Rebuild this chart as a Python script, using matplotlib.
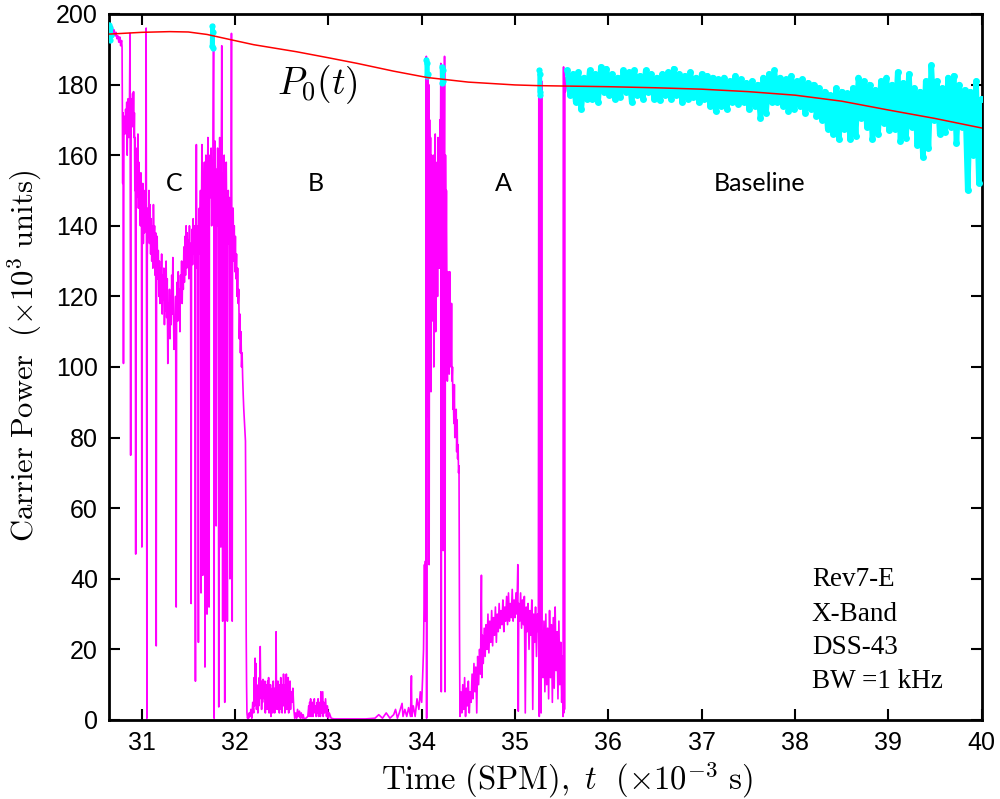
import numpy as np
import matplotlib
matplotlib.use("Agg")
import matplotlib.pyplot as plt

plt.rcParams['mathtext.fontset'] = 'cm'

# ---- magenta: full carrier power record (t in 1e-3 s, power in 1e3 units)
mag_pts = [
 (30.650,195.5),(30.665,196.8),(30.675,195.0),(30.685,196.5),(30.695,194.5),(30.705,195.5),(30.715,193.8),
 (30.725,194.8),(30.735,193.0),(30.745,193.8),(30.755,192.0),(30.765,193.5),(30.775,191.0),(30.785,192.5),
 (30.790,190.5),(30.797,152),(30.800,172),(30.805,101),(30.810,168),(30.815,171),(30.822,166),(30.828,173),
 (30.835,169),(30.840,175),(30.845,160),(30.850,172),(30.855,176),(30.862,165),(30.868,170),(30.875,194.5),
 (30.879,120),(30.882,75),(30.886,160),(30.890,176),(30.897,172),(30.903,177.5),(30.908,168),(30.913,178),
 (30.918,165),(30.922,172),(30.927,150),(30.931,165),(30.936,47),(30.940,160),(30.945,148),(30.950,162),
 (30.955,152),(30.960,166),(30.965,145),(30.970,158),(30.980,150),(30.986,140),(30.992,155),(30.998,145),
 (31.002,49),(31.006,140),(31.012,152),(31.018,135),(31.024,148),(31.030,138),(31.036,150),(31.042,140),
 (31.048,196),(31.052,120),(31.056,0.5),(31.060,130),(31.066,145),(31.072,137),(31.078,150),(31.084,135),
 (31.090,146),(31.096,132),(31.102,142),(31.108,130),(31.114,140),(31.120,128),(31.126,146),(31.132,135),
 (31.138,140),(31.144,126),(31.150,138),(31.156,21),(31.160,130),(31.166,137),(31.172,125),(31.178,133),
 (31.184,120),(31.190,130),(31.196,118),(31.202,128),(31.208,122),(31.214,132),(31.220,115),(31.226,126),
 (31.232,119),(31.238,128),(31.244,112),(31.250,124),(31.256,116),(31.262,130),(31.268,114),(31.274,125),
 (31.280,101),(31.286,118),(31.292,110),(31.298,122),(31.304,108),(31.310,120),(31.316,112),(31.322,126),
 (31.328,115),(31.334,131),(31.340,118),(31.346,105),(31.352,113),(31.358,107),(31.364,120),(31.370,32),
 (31.374,112),(31.380,124),(31.386,113),(31.392,127),(31.398,117),(31.404,122),(31.410,110),(31.416,126),
 (31.422,120),(31.428,130),(31.434,118),(31.440,128),(31.446,122),(31.452,134),(31.458,124),(31.464,137),
 (31.470,126),(31.476,140),(31.482,128),(31.488,138),(31.494,130),(31.500,136),(31.506,125),(31.512,140),
 (31.518,128),(31.524,135),(31.530,33),(31.534,130),(31.540,139),(31.546,129),(31.552,142),(31.558,132),
 (31.564,140),(31.570,130),(31.576,11),(31.580,135),(31.586,163),(31.590,140),(31.596,128),(31.602,140),
 (31.608,22),(31.612,135),(31.618,145),(31.624,132),(31.630,150),(31.636,36),(31.640,140),(31.646,163),
 (31.650,130),(31.655,41),(31.660,150),(31.666,145),(31.672,158),(31.678,15),(31.682,148),(31.688,160),
 (31.694,140),(31.700,30),(31.704,152),(31.710,165),(31.716,145),(31.722,32),(31.726,150),(31.732,160),
 (31.738,148),(31.744,162),(31.750,140),(31.756,155),(31.762,150),(31.768,190),(31.772,197),(31.776,0.5),
 (31.780,150),(31.786,164),(31.792,146),(31.798,55),(31.802,156),(31.808,140),(31.814,162),(31.820,148),
 (31.826,3.7),(31.830,150),(31.836,165),(31.842,145),(31.848,49),(31.852,152),(31.858,191),(31.862,148),
 (31.868,28),(31.872,155),(31.878,145),(31.884,160),(31.890,5),(31.894,150),(31.900,145),(31.906,158),
 (31.912,140),(31.918,28),(31.922,142),(31.928,150),(31.934,135),(31.940,148),(31.946,40),(31.950,140),
 (31.956,132),(31.962,194.5),(31.966,135),(31.970,28),(31.974,138),(31.980,145),(31.986,130),(31.992,140),
 (31.998,127),(32.004,137),(32.010,125),(32.016,132),(32.022,120),(32.028,128),(32.034,118),(32.040,122),
 (32.046,108),(32.052,115),(32.058,104),(32.064,110),(32.070,100),(32.076,104),(32.082,97),(32.088,92),
 (32.094,88),(32.100,85),(32.106,82),(32.112,79),(32.116,60),(32.120,24),(32.124,10),(32.128,2),
 (32.134,0.5),(32.140,1),(32.146,0.5),(32.152,2),
 (32.160,1),(32.170,3),(32.180,0.5),(32.190,5),(32.200,2),(32.205,12),(32.210,4),(32.215,17.5),(32.220,6),
 (32.225,16),(32.230,3),(32.240,9),(32.245,2),(32.250,10),(32.255,4),(32.260,12),(32.265,6),(32.270,20.8),
 (32.275,8),(32.280,11),(32.285,3),(32.290,10),(32.295,5),(32.300,11.5),(32.305,7),(32.310,10.5),(32.315,6),
 (32.320,11),(32.325,2),(32.330,9),(32.335,7),(32.340,10),(32.345,3),(32.350,11),(32.355,6),(32.360,12),
 (32.365,2),(32.370,9),(32.375,6),(32.380,10),(32.385,1),(32.390,8),(32.395,4),(32.400,9),(32.405,2),
 (32.410,11),(32.415,5),(32.420,9),(32.425,2),(32.430,7),(32.435,3),(32.440,25),(32.445,4),(32.450,9),
 (32.455,3),(32.460,11),(32.465,5),(32.470,10),(32.475,2),(32.480,8),(32.485,4),(32.490,12),(32.495,3),
 (32.500,7),(32.505,2),(32.510,10),(32.515,4),(32.520,13),(32.525,6),(32.530,9),(32.535,2),(32.540,10),
 (32.545,4),(32.550,13),(32.555,3),(32.560,9),(32.565,5),(32.570,12),(32.575,2),(32.580,10),(32.585,4),
 (32.590,11),(32.595,3),(32.600,8),(32.610,5),(32.620,9),(32.630,3),(32.640,0.5),(32.650,2),(32.660,0.5),
 (32.670,3),(32.680,1),(32.690,2.5),(32.700,0.5),(32.710,2),(32.720,0.5),(32.730,1.5),(32.740,0.3),
 (32.760,0.5),(32.780,1),(32.790,4),(32.795,1),(32.800,5),(32.805,2),(32.810,6),(32.815,1),(32.820,4),
 (32.825,2),(32.830,5),(32.835,1),(32.840,3),(32.850,6),(32.855,2),(32.860,4),(32.870,1),(32.880,5),
 (32.885,2),(32.890,6),(32.895,1),(32.900,3),(32.910,5),(32.915,1),(32.920,8),(32.925,2),(32.930,4),
 (32.940,8),(32.945,1),(32.950,5),(32.960,2),(32.970,6),(32.980,1),(32.990,4),(33.000,0.5),(33.010,2),
 (33.030,0.5),(33.060,0.3),(33.200,0.3),(33.400,0.3),(33.500,0.5),(33.540,1.5),(33.580,0.5),(33.620,2),
 (33.660,0.5),(33.700,1.5),(33.720,3),(33.740,0.5),(33.760,2),(33.790,4.7),(33.800,1),(33.820,3),
 (33.840,1),(33.860,3.5),(33.880,1),(33.890,12.5),(33.895,1),(33.910,4),(33.930,1),(33.950,6),
 (33.970,3),(33.985,8),(34.000,5),(34.010,12),(34.020,20),(34.030,44),(34.035,28),(34.040,45),(34.045,30),
 (34.050,188),(34.053,0.5),(34.057,186),(34.060,90),(34.065,183),(34.070,86),(34.075,180),(34.080,44),
 (34.085,170),(34.090,140),(34.095,165),(34.100,93),(34.105,160),(34.110,113),(34.115,150),(34.120,120),
 (34.125,160),(34.130,100),(34.135,155),(34.140,128),(34.145,166),(34.150,110),(34.155,150),(34.160,135),
 (34.165,158),(34.170,120),(34.175,165),(34.180,130),(34.185,160),(34.190,128),(34.195,170),(34.200,150),
 (34.205,186),(34.210,8),(34.215,182),(34.220,130),(34.225,185),(34.230,48),(34.235,178),(34.240,140),
 (34.245,188),(34.250,8),(34.255,160),(34.260,130),(34.265,150),(34.270,122),(34.275,96),(34.280,127),
 (34.285,105),(34.290,120),(34.295,98),(34.300,127),(34.305,110),(34.310,113),(34.315,100),(34.320,118),
 (34.325,96),(34.330,100),(34.335,88),(34.340,91),(34.345,84),(34.350,95),(34.355,80),(34.360,87),
 (34.365,82),(34.370,88),(34.375,76),(34.380,85),(34.385,74),(34.390,78),(34.395,70),(34.400,72),
 (34.405,27),(34.410,1),
 (34.420,8),(34.430,2),(34.440,10),(34.450,3),(34.460,12),(34.470,1),(34.480,9),(34.490,4),(34.500,11),
 (34.510,2),(34.520,8),(34.530,5),(34.540,13),(34.550,6),(34.560,16),(34.570,8),(34.580,15),(34.590,2),
 (34.600,18),(34.610,10),(34.620,20),(34.630,13),(34.640,41),(34.645,12),(34.650,24),(34.660,16),
 (34.670,26),(34.680,18),(34.690,27),(34.700,20),(34.710,30),(34.720,19),(34.730,28),(34.740,22),
 (34.750,31),(34.760,21),(34.770,29),(34.780,24),(34.790,32),(34.800,22),(34.810,30),(34.820,25),
 (34.830,33),(34.840,26),(34.850,31),(34.860,27),(34.870,34),(34.880,25),(34.890,32),(34.900,28),
 (34.910,35),(34.920,27),(34.930,36),(34.940,28),(34.950,33),(34.960,29),(34.970,37),(34.980,28),
 (34.990,34),(35.000,29),(35.010,36),(35.020,30),(35.030,44),(35.035,2.5),(35.040,33),(35.050,28),
 (35.060,36),(35.070,26),(35.080,34),(35.090,27),(35.100,35),(35.110,2),(35.120,32),(35.130,25),
 (35.140,33),(35.150,20),(35.160,31),(35.170,24),(35.180,34),(35.190,3),(35.200,30),(35.210,22),
 (35.220,32),(35.230,18),(35.240,30),(35.250,25),(35.255,184),(35.260,1),(35.265,180),(35.270,183),
 (35.275,184),(35.280,2),(35.285,181),(35.290,24),(35.300,12),(35.310,28),(35.320,8),(35.330,30),
 (35.340,10),(35.350,26),(35.360,6),(35.370,31),(35.380,12),(35.390,27),(35.400,5),(35.410,29),
 (35.420,9),(35.430,32),(35.440,14),(35.450,25),(35.460,6),(35.470,28),(35.480,10),(35.490,22),
 (35.500,5),(35.510,18),(35.515,1),(35.520,185),(35.523,2),(35.527,184),(35.530,3),(35.534,182),
 (35.540,178),(35.560,181),
]
mag_t = [p[0] for p in mag_pts]
mag_y = [p[1] for p in mag_pts]

# ---- cyan: short baseline snippets inside occultation zone
cyan_snip_t = [[30.650, 30.655, 30.660, 30.665, 30.670],
               [31.752, 31.756, 31.760, 31.764],
               [34.050, 34.055, 34.060, 34.065],
               [34.215, 34.220, 34.225, 34.230],
               [35.262, 35.265, 35.268, 35.271]]
cyan_snip_y = [[193, 197, 192.5, 196, 194],
               [191, 196.5, 190.5, 195],
               [187, 182.5, 186, 183],
               [185, 180.5, 184, 181],
               [184, 178, 183, 177]]

# ---- cyan: free-space baseline, upper / lower excursions every 0.06
base_t0, base_t1 = 35.56, 40.00
base_hi = [184, 183, 183.5, 182, 184, 183, 185, 184.5, 183, 182, 184, 183.5, 184, 182.5, 184, 183,
           182, 183, 183.5, 184.5, 183, 182.5, 183.5, 182, 183, 182.5, 182, 181.5, 182, 181, 182.5, 181.5,
           180.5, 181, 180, 182, 183, 184, 182, 181.5, 182.5, 181, 181.5, 180.5, 180, 179, 178, 177,
           179, 178, 177.5, 179, 182, 181, 180, 178.5, 181, 182, 180, 183.5, 180.5, 183, 179, 178,
           181, 185.5, 181, 179, 182, 182.5, 180, 178.5, 178, 181, 176]
base_lo = [177, 175, 173, 176, 176, 175, 178, 177, 176, 176.5, 178, 175, 177, 176, 178, 176,
           175.5, 177, 176, 177, 175, 176, 176.5, 175, 176, 174, 172.5, 174, 173, 175, 174.5, 175,
           173, 174, 170.5, 172, 175, 175, 174, 172.5, 173, 174, 172, 173, 171, 170, 167.5, 166,
           164.5, 167.5, 164.5, 165.5, 170.5, 168, 164.5, 166, 169, 167, 167.5, 164, 165, 168, 163, 159.5,
           162, 170, 166, 166.5, 168, 163.5, 168, 150, 160, 152, 158]

# ---- red: fitted free-space power P0(t)
p0_t = [30.65, 31.0, 31.3, 31.5, 31.7, 31.94, 32.2, 32.66, 33.0, 33.31, 33.7, 34.06, 34.5, 35.0,
        35.25, 35.5, 36.0, 36.5, 37.0, 37.5, 38.0, 38.5, 39.0, 39.5, 40.0]
p0_y = [194.3, 194.8, 195.0, 194.9, 194.2, 192.8, 191.3, 189.3, 187.6, 186.0, 183.8, 182.0, 180.7, 179.9,
        179.7, 179.6, 179.4, 179.1, 178.7, 178.0, 177.0, 175.3, 172.8, 170.4, 167.7]

region_labels = ["C", "B", "A", "Baseline"]
region_t = [31.35, 32.87, 34.87, 37.62]
info_lines = ["Rev7-E", "X-Band", "DSS-43", "BW =1 kHz"]

xticks = [31, 32, 33, 34, 35, 36, 37, 38, 39, 40]
yticks = [0, 20, 40, 60, 80, 100, 120, 140, 160, 180, 200]

fig = plt.figure(figsize=(10, 7.99), dpi=100)
ax = fig.add_axes([0.109, 0.0989, 0.8727, 0.8836])

ax.plot(mag_t, mag_y, color='#ff00ff', lw=1.2, zorder=2)

for st, sy in zip(cyan_snip_t, cyan_snip_y):
    ax.plot(st, sy, color='#00ffff', lw=3, marker='o', ms=4.5, mew=0, zorder=3)

n = len(base_hi)
tt = np.linspace(base_t0, base_t1, n)
dt = (tt[1] - tt[0]) / 2
bt, by = [], []
for i in range(n):
    bt += [tt[i], tt[i] + dt]
    by += [base_hi[i], base_lo[i]]
bt = np.array(bt); by = np.array(by)
keep = bt <= 40.0
ax.plot(bt[keep], by[keep], color='#00ffff', lw=4, marker='o', ms=5, mew=0,
        solid_joinstyle='round', solid_capstyle='round', zorder=3)

ax.plot(p0_t, p0_y, color='red', lw=1.1, zorder=4)

ax.set_xlim(30.65, 40)
ax.set_ylim(0, 200)
ax.set_xticks(xticks)
ax.set_yticks(yticks)
ax.tick_params(direction='in', length=8, width=1.5, top=True, right=True,
               labelsize=18, pad=8)
for lab in ax.get_xticklabels() + ax.get_yticklabels():
    lab.set_family('Liberation Sans')
for s in ax.spines.values():
    s.set_linewidth(2)

for lab, t in zip(region_labels, region_t):
    ax.text(t, 152, lab, ha='center', va='center', fontsize=18, family='Lato')

ax.text(32.45, 180, r'$P_0(t)$', fontsize=27, ha='left', va='center')

info_y = [39.7, 30.0, 20.4, 10.8]
for line, yy in zip(info_lines, info_y):
    ax.text(38.18, yy, line, fontsize=19.5, family='Liberation Serif',
            ha='left', va='center')

ax.set_xlabel(r'$\mathrm{Time\ (SPM)},\ t\ \ (\times 10^{-3}\ \mathrm{s})$', fontsize=23.5)
ax.xaxis.set_label_coords(0.525, -0.056)
ax.set_ylabel(r'$\mathrm{Carrier\ Power}\ \ (\times 10^{3}\ \mathrm{units})$', fontsize=22)
ax.yaxis.set_label_coords(-0.074, 0.515)

fig.savefig('out.png', dpi=100)
